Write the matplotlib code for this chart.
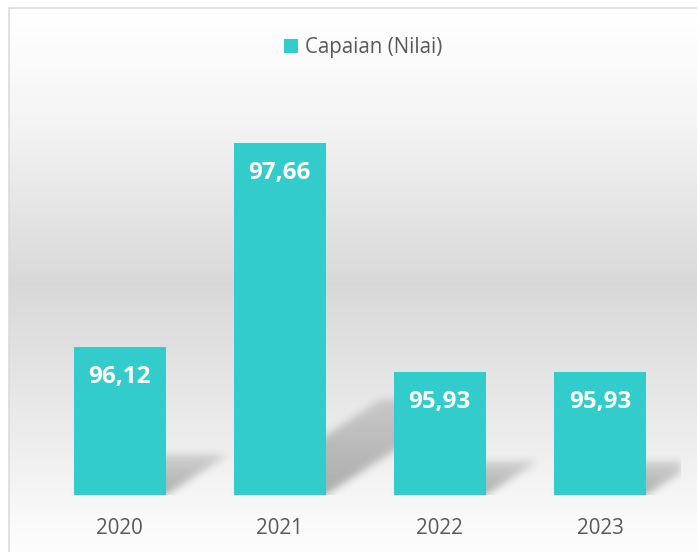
import numpy as np
import matplotlib.pyplot as plt

# data
years = ['2020', '2021', '2022', '2023']
capaian = [96.12, 97.66, 95.93, 95.93]
value_labels = ['96,12', '97,66', '95,93', '95,93']
series_name = 'Capaian (Nilai)'

W, H = 697, 552
teal = '#33CCCC'
grey_txt = '#595959'
y0, y1 = 95, 98
bw = 0.575

plt.rcParams['font.family'] = ['Open Sans', 'DejaVu Sans']

fig = plt.figure(figsize=(W / 100, H / 100), dpi=100)

# chart background: vertical grey gradient + light border
bg = fig.add_axes([0, 0, 1, 1], zorder=0)
bg.set_xlim(0, W)
bg.set_ylim(H, 0)
bg.axis('off')
rows = np.arange(H)
shade = np.interp(rows, [8, 110, 280, 430, 530, H], [1.0, 0.96, 0.85, 0.925, 0.985, 0.99])
grad = np.repeat(shade[:, None], 3, axis=1)[:, None, :]
bg.imshow(grad, extent=[9, W, H, 8], aspect='auto', interpolation='bilinear')
bg.plot([9, 9, W], [H, 8, 8], color='#D9D9D9', lw=1.1, solid_joinstyle='miter')

# plot area
ax = fig.add_axes([39.5 / W, 57 / H, 640.5 / W, 397.5 / H], zorder=1)
ax.set_facecolor('none')
x = np.arange(len(years))

# perspective shadows behind the bars (blurred raster)
nx, ny = 640, 400
px_x, px_y = 640.5 / 4, 397.5 / 3
xs = np.linspace(-0.5, 3.5, nx)
ys = np.linspace(y1, y0, ny)
X, Y = np.meshgrid(xs, ys)
alpha = np.zeros_like(X)
slope = 0.65
for xi, v in zip(x, capaian):
    h = (v - y0) * px_y
    hs = 0.27 * h
    u = (X - (xi - bw / 2)) * px_x
    d = (Y - y0) * px_y
    s = u - d / slope
    inside = (d >= 0) & (d <= hs) & (s >= 0) & (s <= bw * px_x)
    fade = 1 - 0.55 * d / max(hs, 1)
    alpha = np.maximum(alpha, inside * fade)

sig = 4.0
k = np.arange(-12, 13)
kern = np.exp(-k ** 2 / (2 * sig ** 2))
kern /= kern.sum()
alpha = np.apply_along_axis(lambda r: np.convolve(r, kern, mode='same'), 1, alpha)
alpha = np.apply_along_axis(lambda c: np.convolve(c, kern, mode='same'), 0, alpha)
shadow = np.zeros((ny, nx, 4))
shadow[..., 3] = alpha * 0.3
ax.imshow(shadow, extent=[-0.5, 3.5, y0, y1], aspect='auto', zorder=1, interpolation='bilinear')

bars = ax.bar(x, np.array(capaian) - y0, bottom=y0, width=bw, color=teal,
              zorder=2, label=series_name)

for xi, v, lab in zip(x, capaian, value_labels):
    ax.annotate(lab, (xi, v), xytext=(0, -30), textcoords='offset pixels',
                ha='center', va='center', color='white', fontsize=17.5,
                fontweight='bold', zorder=3)

ax.set_xlim(-0.5, 3.5)
ax.set_ylim(y0, y1)
ax.set_xticks(x, years)
ax.tick_params(axis='x', length=0, pad=24, labelsize=14.8, labelcolor=grey_txt)
for t in ax.get_xticklabels():
    t.set_va('center')
ax.set_yticks([])
for sp in ax.spines.values():
    sp.set_visible(False)

fig.legend(handles=[bars], labels=[series_name], loc='center',
           bbox_to_anchor=(363.5 / W, 1 - 47.5 / H), frameon=False,
           fontsize=14.8, labelcolor=grey_txt, handlelength=0.68,
           handleheight=0.68, handletextpad=0.34, borderaxespad=0, borderpad=0)

fig.savefig('out.png', dpi=100)
